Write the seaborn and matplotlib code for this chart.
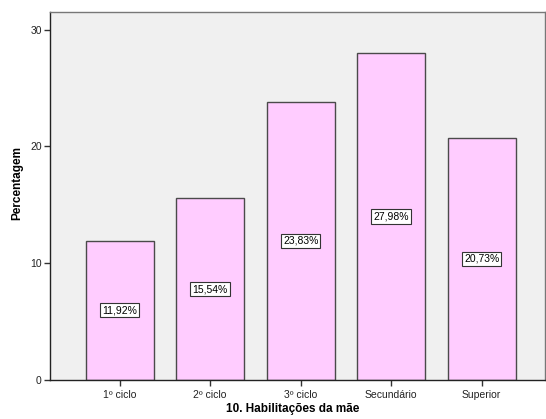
import matplotlib
matplotlib.use("Agg")
import matplotlib.pyplot as plt
import seaborn as sns
import pandas as pd

categorias = ["1º ciclo", "2º ciclo", "3º ciclo", "Secundário", "Superior"]
percentagens = [11.92, 15.54, 23.83, 27.98, 20.73]
yticks = [0, 10, 20, 30]

sns.set_theme(style="white")
plt.rcParams["font.family"] = ["Liberation Sans", "DejaVu Sans"]
plt.rcParams["text.color"] = "black"
plt.rcParams["axes.labelcolor"] = "black"
plt.rcParams["xtick.color"] = "black"
plt.rcParams["ytick.color"] = "black"

df = pd.DataFrame({"cat": categorias, "pct": percentagens})

fig = plt.figure(figsize=(5.46, 4.19), dpi=100)
ax = fig.add_axes([50 / 546, 39 / 419, 495 / 546, 368 / 419])
ax.set_facecolor("#F0F0F0")

sns.barplot(data=df, x="cat", y="pct", ax=ax, color="#FFCCFF",
            saturation=1, width=0.75, edgecolor="#4a4a4a", linewidth=1.0)

for i, v in enumerate(percentagens):
    ax.text(i, v / 2, f"{v:.2f}%".replace(".", ","), ha="center", va="center",
            fontsize=7.5, color="black",
            bbox=dict(boxstyle="square,pad=0.2", fc="white", ec="#333333", lw=0.8))

ax.set_xlim(-0.77, 4.7)
ax.set_ylim(0, 31.5)
ax.set_yticks(yticks)
ax.set_yticklabels([str(t) for t in yticks], fontsize=7.5)
ax.tick_params(axis="x", labelsize=7.5, length=4, width=1, color="#333333",
               labelcolor="#222222", pad=3, bottom=True)
ax.tick_params(axis="y", length=4, width=1, color="#333333",
               labelcolor="#222222", pad=2, left=True)

ax.set_xlabel("10. Habilitações da mãe", fontsize=8.5, fontweight="bold", color="black")
ax.set_ylabel("Percentagem", fontsize=8.5, fontweight="bold", color="black")
ax.xaxis.set_label_coords(0.5 + (293 - 297.5) / 495, (380 - 409) / 368)
ax.yaxis.set_label_coords((17 - 50) / 495, 0.5 + (209 - 196) / 368)
ax.xaxis.label.set_va("center")
ax.yaxis.label.set_va("center")

for side in ["left", "bottom"]:
    ax.spines[side].set_color("#222222")
    ax.spines[side].set_linewidth(1.0)
for side in ["top", "right"]:
    ax.spines[side].set_color("#777777")
    ax.spines[side].set_linewidth(1.0)

fig.savefig("out.png", dpi=100, facecolor="white")
